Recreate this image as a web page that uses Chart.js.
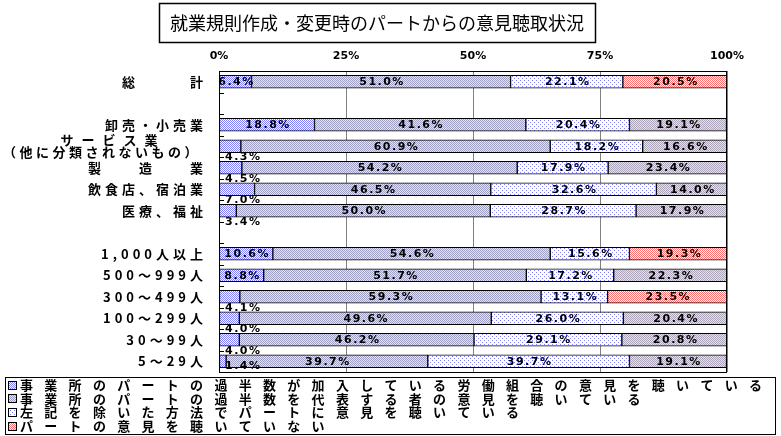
<!DOCTYPE html>
<html lang="ja">
<head>
<meta charset="utf-8">
<title>就業規則作成・変更時のパートからの意見聴取状況</title>
<script src="https://cdn.jsdelivr.net/npm/chart.js@4.4.1/dist/chart.umd.min.js"></script>
<style>
  html, body { margin: 0; padding: 0; background: #fff; }
  #wrap { position: relative; width: 781px; height: 436px; }
</style>
</head>
<body>
<div id="wrap"><canvas id="chart" width="781" height="436"></canvas></div>
<script>
const TITLE = '就業規則作成・変更時のパートからの意見聴取状況';

// rows (blank strings are spacer rows)
const CATEGORIES = [
  '総　　　計', '',
  '卸売・小売業', ['サービス業', '（他に分類されないもの）'], '製　　造　　業', '飲食店、宿泊業', '医療、福祉', '',
  '1,000人以上', '500～999人', '300～499人', '100～299人', '30～99人', '5～29人'
];

const SERIES_NAMES = [
  '事業所のパートの過半数が加入している労働組合の意見を聴いている',
  '事業所のパートの過半数を代表する者の意見を聴いている',
  '左記を除いた方法でパートに意見を聴いている',
  'パートの意見を聴いていない'
];

const UNION          = [6.4, null, 18.8, 4.3, 4.5, 7.0, 3.4, null, 10.6, 8.8, 4.1, 4.0, 4.0, 1.4];
const REPRESENTATIVE = [51.0, null, 41.6, 60.9, 54.2, 46.5, 50.0, null, 54.6, 51.7, 59.3, 49.6, 46.2, 39.7];
const OTHER_METHOD   = [22.1, null, 20.4, 18.2, 17.9, 32.6, 28.7, null, 15.6, 17.2, 13.1, 26.0, 29.1, 39.7];
const NOT_HEARD      = [20.5, null, 19.1, 16.6, 23.4, 14.0, 17.9, null, 19.3, 22.3, 23.5, 20.4, 20.8, 19.1];

const X_TICKS = [0, 25, 50, 75, 100];

// rows whose "not heard" segment is shown in red
const RED_ROWS = [0, 8, 10];
// rows whose first (small) label sits below the bar
const LABEL_BELOW = [3, 4, 5, 6, 10, 11, 12, 13];

const canvas = document.getElementById('chart');
const ctx = canvas.getContext('2d');

// little bitmap patterns like the Excel fills
function makePattern(size, bg, fg, dots) {
  const c = document.createElement('canvas');
  c.width = c.height = size;
  const g = c.getContext('2d');
  g.fillStyle = bg;
  g.fillRect(0, 0, size, size);
  g.fillStyle = fg;
  dots.forEach(([x, y]) => g.fillRect(x, y, 1, 1));
  return ctx.createPattern(c, 'repeat');
}

const CHECK = [[0, 0], [1, 1]];
const P_UNION = makePattern(2, '#ffffff', '#8080ff', CHECK);
const P_REPR  = makePattern(2, '#e4e4e4', '#a0a0c4', CHECK);
const P_OTHER = makePattern(4, '#ffffff', '#8080ff', [[0, 0], [2, 2]]);
const P_RED   = makePattern(2, '#ffffff', '#ff7070', CHECK);
const P_GREY  = makePattern(2, '#e4e4e4', '#aca4b8', CHECK);

const FILLS = [P_UNION, P_REPR, P_OTHER, P_RED];

const seriesData = [UNION, REPRESENTATIVE, OTHER_METHOD, NOT_HEARD];
const datasets = seriesData.map((d, i) => ({
  label: SERIES_NAMES[i],
  data: d,
  backgroundColor: i === 3
    ? d.map((v, j) => RED_ROWS.includes(j) ? P_RED : P_GREY)
    : FILLS[i],
  borderColor: '#000',
  borderWidth: 1,
  borderSkipped: false,
  barThickness: 13
}));

const JP = '"Noto Sans CJK JP", "Noto Sans", sans-serif';
const NUM = '"DejaVu Sans", sans-serif';

const decorPlugin = {
  id: 'decor',
  afterDraw(chart) {
    const c = chart.ctx;
    const a = chart.chartArea;
    const yScale = chart.scales.y;
    const rowH = (a.bottom - a.top) / CATEGORIES.length;

    c.save();
    // frame
    c.strokeStyle = '#000';
    c.lineWidth = 1;
    c.strokeRect(a.left + 0.5, a.top + 0.5, a.right - a.left - 1, a.bottom - a.top);
    // inside tick marks on category axis
    c.beginPath();
    for (let k = 1; k < CATEGORIES.length; k++) {
      const y = Math.round(a.top + k * rowH) + 0.5;
      c.moveTo(a.left, y);
      c.lineTo(a.left + 5, y);
    }
    c.stroke();

    // value labels
    c.fillStyle = '#000';
    c.font = 'bold 11px ' + NUM;
    c.letterSpacing = '1.5px';
    c.textBaseline = 'middle';
    chart.data.datasets.forEach((ds, i) => {
      const meta = chart.getDatasetMeta(i);
      meta.data.forEach((bar, j) => {
        const v = ds.data[j];
        if (v == null) return;
        const txt = v.toFixed(1) + '%';
        if (i === 0 && LABEL_BELOW.includes(j)) {
          c.textAlign = 'left';
          c.fillText(txt, a.left + 6, Math.min(bar.y + 11, a.bottom - 6));
        } else {
          c.textAlign = 'center';
          c.fillText(txt, (bar.x + bar.base) / 2 + 1, bar.y + 0.5);
        }
      });
    });

    // category labels
    c.font = 'bold 13px ' + JP;
    CATEGORIES.forEach((lab, i) => {
      if (!lab) return;
      const y = yScale.getPixelForValue(i);
      if (Array.isArray(lab)) {
        c.textAlign = 'center';
        c.letterSpacing = '8px';
        c.fillText(lab[0], 109 + 4, y - 6);
        c.letterSpacing = '3.5px';
        c.fillText(lab[1], 100 + 2, y + 6);
      } else {
        c.textAlign = 'right';
        c.letterSpacing = '4px';
        c.fillText(lab, 207, y);
      }
    });

    // title box
    c.letterSpacing = '0px';
    c.lineWidth = 1.5;
    c.strokeRect(159.5, 3.5, 436, 39);
    c.font = '18px ' + JP;
    c.textAlign = 'center';
    c.fillText(TITLE, 377, 23);

    // legend box
    c.lineWidth = 1;
    c.strokeRect(5.5, 377.5, 770, 57);
    c.font = 'bold 13px ' + JP;
    c.letterSpacing = '11.3px';
    c.textAlign = 'left';
    SERIES_NAMES.forEach((name, i) => {
      const y = 385 + 13.7 * i;
      c.fillStyle = FILLS[i];
      c.fillRect(8, Math.round(y - 4.5), 9, 9);
      c.strokeStyle = '#000';
      c.strokeRect(8.5, Math.round(y - 4.5) + 0.5, 8, 8);
      c.fillStyle = '#000';
      c.fillText(name, 20, y);
    });
    c.restore();
  }
};

new Chart(ctx, {
  type: 'bar',
  data: { labels: CATEGORIES, datasets },
  options: {
    indexAxis: 'y',
    responsive: false,
    animation: false,
    layout: { padding: { left: 219, right: 54, top: 0, bottom: 64 } },
    plugins: {
      legend: { display: false },
      title: { display: false },
      tooltip: { enabled: false }
    },
    scales: {
      x: {
        position: 'top',
        stacked: true,
        min: 0,
        max: 100,
        afterBuildTicks: s => { s.ticks = X_TICKS.map(v => ({ value: v })); },
        ticks: {
          callback: v => v + '%',
          color: '#000',
          font: { family: NUM, weight: 'bold', size: 11 },
          padding: 8,
          maxRotation: 0
        },
        grid: { color: '#808080', drawTicks: false },
        border: { display: false },
        afterFit: s => { s.height = 71; }
      },
      y: {
        stacked: true,
        ticks: { display: false },
        grid: { display: false },
        border: { display: false },
        afterFit: s => { s.width = 0; }
      }
    }
  },
  plugins: [decorPlugin]
});
</script>
</body>
</html>
